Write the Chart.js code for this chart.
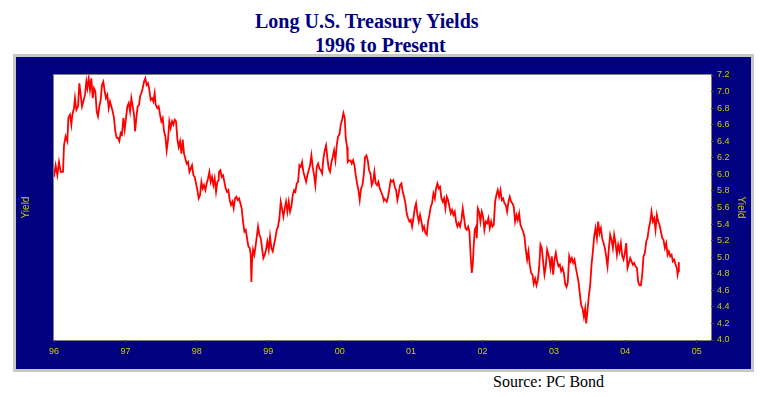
<!DOCTYPE html>
<html>
<head>
<meta charset="utf-8">
<script src="https://cdn.jsdelivr.net/npm/chart.js@4"></script>
<style>
  body{margin:0;background:#fff;width:760px;height:397px;position:relative;overflow:hidden}
  .t{position:absolute;font-family:"Liberation Serif","Times New Roman",serif;font-weight:bold;color:#000080;font-size:20px;white-space:nowrap;line-height:20px}
  #panel{position:absolute;left:13px;top:54px;width:741px;height:318px;box-sizing:border-box;border:3px solid #c8c8c8;background:#000080}
  #wrap{position:absolute;left:0;top:0;width:735px;height:312px}
  #src{position:absolute;left:493px;top:373px;font-family:"Liberation Serif","Times New Roman",serif;font-size:16px;color:#000;white-space:nowrap}
</style>
</head>
<body>
<div class="t" id="t1" style="left:255px;top:11px">Long U.S. Treasury Yields</div>
<div class="t" id="t2" style="left:315px;top:35px">1996 to Present</div>
<div id="panel"><div id="wrap"><canvas id="myChart" width="735" height="312"></canvas></div></div>
<div id="src">Source: PC Bond</div>
<script>
// tick labels
let xLabels=['96','97','98','99','00','01','02','03','04','05'];

// yields, by stretch of years
let years96=[1996.000,1996.023,1996.047,1996.070,1996.093,1996.126,1996.140,1996.163,1996.187,1996.201,1996.224,1996.243,1996.257,1996.280,1996.294,1996.313,1996.336,1996.355,1996.374,1996.392,1996.411,1996.434,1996.453,1996.467,1996.486,1996.504,1996.523,1996.542,1996.560,1996.579,1996.598,1996.616,1996.635,1996.654,1996.672,1996.691,1996.710,1996.728,1996.747,1996.766,1996.784,1996.803,1996.822,1996.840,1996.859,1996.878,1996.896,1996.915,1996.934,1996.952,1996.971,1996.990,1997.008,1997.027,1997.046,1997.065,1997.083,1997.102,1997.121,1997.135,1997.153,1997.172,1997.191,1997.205,1997.223,1997.242,1997.261,1997.279,1997.298,1997.317,1997.335,1997.354,1997.373,1997.391,1997.410,1997.424,1997.447,1997.466,1997.485,1997.503,1997.522,1997.541,1997.559,1997.578,1997.597,1997.615,1997.634,1997.653,1997.672,1997.690,1997.709,1997.728,1997.746,1997.765,1997.784,1997.802,1997.821,1997.840,1997.858,1997.877,1997.896,1997.914,1997.933,1997.952,1997.970,1997.989,1998.008,1998.026,1998.045,1998.064,1998.082,1998.101,1998.120,1998.138,1998.157,1998.176,1998.194,1998.213,1998.232,1998.250,1998.269,1998.288,1998.306];
let yields96=[5.97,6.11,5.99,6.15,6.03,6.03,6.35,6.46,6.40,6.68,6.72,6.60,6.72,6.80,6.92,6.78,6.82,7.10,6.96,6.82,6.88,6.96,7.12,7.04,7.16,7.02,7.16,6.92,7.04,7.00,6.76,6.70,6.82,6.90,7.08,7.12,7.00,6.92,6.96,6.80,6.88,6.82,6.76,6.68,6.52,6.44,6.44,6.40,6.50,6.48,6.68,6.54,6.68,6.82,6.86,6.76,6.92,6.82,6.72,6.52,6.68,6.82,6.84,6.94,6.98,7.04,7.12,7.16,7.08,7.10,7.02,6.90,6.92,6.88,6.98,6.84,6.80,6.82,6.72,6.64,6.68,6.52,6.46,6.29,6.42,6.64,6.56,6.64,6.60,6.66,6.64,6.42,6.33,6.40,6.25,6.42,6.25,6.19,6.13,6.15,6.03,6.07,6.11,5.99,5.97,5.89,5.81,5.71,5.75,5.91,5.83,5.87,5.81,5.89,5.95,6.03,5.91,5.97,5.87,5.95,5.79,5.91,5.93];

let years98=[1998.311,1998.330,1998.348,1998.367,1998.386,1998.404,1998.423,1998.442,1998.460,1998.479,1998.498,1998.516,1998.535,1998.554,1998.572,1998.591,1998.610,1998.628,1998.647,1998.666,1998.685,1998.703,1998.722,1998.741,1998.755,1998.764,1998.773,1998.787,1998.806,1998.825,1998.843,1998.857,1998.876,1998.895,1998.913,1998.932,1998.951,1998.969,1998.988,1999.007,1999.025,1999.044,1999.063,1999.081,1999.100,1999.119,1999.137,1999.156,1999.175,1999.193,1999.212,1999.231,1999.249,1999.268,1999.287,1999.306,1999.324,1999.343,1999.362,1999.380,1999.399,1999.418,1999.436,1999.455,1999.474,1999.492,1999.511,1999.530,1999.548,1999.567,1999.586,1999.604,1999.623,1999.642,1999.660,1999.679,1999.698,1999.716,1999.735,1999.754,1999.772,1999.791,1999.810,1999.829,1999.847,1999.866,1999.885,1999.903,1999.922,1999.941,1999.959,1999.978,1999.997,2000.015,2000.034,2000.053,2000.071,2000.085,2000.104,2000.113,2000.132,2000.151,2000.169,2000.188,2000.207,2000.225,2000.244,2000.263,2000.281,2000.300,2000.319,2000.337,2000.356,2000.375,2000.393,2000.412,2000.431,2000.449,2000.468,2000.487,2000.505,2000.524,2000.543,2000.561,2000.580,2000.599,2000.617];
let yields98=[6.03,6.05,5.97,5.99,5.91,5.83,5.79,5.81,5.69,5.63,5.67,5.59,5.71,5.73,5.69,5.71,5.65,5.59,5.43,5.31,5.33,5.23,5.13,5.11,5.03,4.70,4.95,5.09,5.03,5.15,5.27,5.37,5.27,5.23,5.11,4.99,5.03,5.09,5.19,5.09,5.25,5.11,5.07,5.15,5.23,5.33,5.37,5.47,5.67,5.59,5.49,5.59,5.67,5.55,5.67,5.55,5.61,5.75,5.81,5.79,5.89,5.91,6.11,6.09,6.15,6.03,5.97,5.91,5.99,6.05,6.11,6.23,6.09,5.99,5.87,6.09,6.13,6.07,6.05,6.01,6.19,6.29,6.35,6.19,6.07,6.03,6.15,6.21,6.29,6.17,6.35,6.46,6.48,6.60,6.66,6.74,6.68,6.44,6.33,6.15,6.17,6.17,6.13,6.17,6.11,5.99,5.89,5.81,5.69,5.83,5.87,5.99,6.21,6.23,6.17,6.05,6.01,5.87,5.91,6.03,5.89,5.87,5.91,5.83,5.79,5.75,5.69];

let years00=[2000.622,2000.641,2000.659,2000.678,2000.697,2000.715,2000.734,2000.753,2000.771,2000.790,2000.809,2000.827,2000.846,2000.865,2000.883,2000.902,2000.921,2000.939,2000.958,2000.977,2000.996,2001.014,2001.033,2001.052,2001.070,2001.089,2001.108,2001.126,2001.145,2001.164,2001.182,2001.201,2001.220,2001.238,2001.257,2001.276,2001.294,2001.313,2001.332,2001.350,2001.369,2001.388,2001.406,2001.425,2001.444,2001.462,2001.481,2001.500,2001.518,2001.537,2001.556,2001.574,2001.593,2001.612,2001.630,2001.649,2001.668,2001.686,2001.705,2001.724,2001.743,2001.761,2001.780,2001.799,2001.817,2001.836,2001.850,2001.864,2001.878,2001.892,2001.911,2001.920,2001.934,2001.953,2001.971,2001.990,2002.009,2002.027,2002.046,2002.065,2002.083,2002.102,2002.121,2002.139,2002.158,2002.177,2002.195,2002.214,2002.233,2002.252,2002.270,2002.289,2002.308,2002.326,2002.345,2002.364,2002.382,2002.401,2002.420,2002.438,2002.457,2002.476,2002.494,2002.513,2002.532,2002.550,2002.569,2002.588,2002.606,2002.625,2002.644,2002.662,2002.681,2002.700,2002.718,2002.737,2002.756,2002.774,2002.793,2002.812,2002.830,2002.849,2002.868,2002.886,2002.905,2002.924];
let yields00=[5.71,5.69,5.67,5.73,5.83,5.93,5.91,5.93,5.85,5.81,5.69,5.77,5.87,5.89,5.79,5.73,5.65,5.53,5.47,5.43,5.45,5.37,5.47,5.59,5.65,5.51,5.43,5.51,5.43,5.33,5.37,5.29,5.27,5.43,5.51,5.61,5.65,5.77,5.71,5.83,5.89,5.83,5.85,5.71,5.67,5.71,5.59,5.73,5.69,5.61,5.53,5.57,5.51,5.55,5.43,5.37,5.41,5.37,5.45,5.59,5.47,5.35,5.33,5.37,5.31,4.99,4.81,4.91,5.15,5.33,5.37,5.23,5.59,5.55,5.43,5.55,5.49,5.33,5.43,5.41,5.47,5.35,5.43,5.37,5.39,5.67,5.75,5.81,5.73,5.81,5.69,5.71,5.65,5.63,5.55,5.67,5.73,5.67,5.65,5.61,5.43,5.51,5.45,5.53,5.39,5.35,5.31,5.25,5.09,4.97,5.07,4.91,4.81,4.79,4.68,4.74,4.66,4.72,4.87,5.15,5.11,4.95,4.79,4.89,5.09,5.03];

let years03=[2002.934,2002.952,2002.971,2002.990,2003.008,2003.027,2003.046,2003.064,2003.083,2003.102,2003.121,2003.139,2003.158,2003.177,2003.195,2003.214,2003.233,2003.251,2003.270,2003.289,2003.307,2003.326,2003.345,2003.363,2003.382,2003.401,2003.420,2003.438,2003.452,2003.471,2003.490,2003.508,2003.527,2003.546,2003.564,2003.583,2003.602,2003.620,2003.639,2003.658,2003.676,2003.695,2003.714,2003.732,2003.751,2003.770,2003.788,2003.807,2003.826,2003.844,2003.863,2003.882,2003.900,2003.919,2003.938,2003.957,2003.975,2003.994,2004.013,2004.031,2004.050,2004.069,2004.087,2004.106,2004.125,2004.143,2004.162,2004.181,2004.199,2004.218,2004.237,2004.255,2004.274,2004.293,2004.311,2004.330,2004.349,2004.367,2004.386,2004.405,2004.423,2004.442,2004.461,2004.479,2004.498,2004.517,2004.535,2004.554,2004.573,2004.592,2004.610,2004.629,2004.648,2004.666,2004.685,2004.704,2004.722,2004.732,2004.741,2004.750,2004.760];
let yields03=[4.99,4.87,5.01,4.79,4.97,5.05,4.95,4.89,4.91,4.83,4.87,4.81,4.68,4.64,4.70,5.01,4.95,4.99,4.93,4.97,4.87,4.79,4.70,4.56,4.42,4.38,4.28,4.38,4.20,4.36,4.54,4.66,4.91,5.07,5.25,5.35,5.23,5.43,5.29,5.35,5.23,5.17,5.11,5.01,4.89,5.11,5.27,5.21,5.11,5.27,5.17,5.03,5.15,5.07,5.17,5.01,4.97,5.05,5.17,4.87,4.93,4.99,4.95,4.91,4.93,4.89,4.87,4.70,4.66,4.66,4.79,5.01,5.05,5.19,5.23,5.35,5.43,5.55,5.43,5.47,5.33,5.51,5.43,5.39,5.31,5.23,5.21,5.11,5.17,5.03,5.07,5.01,5.03,4.95,4.97,4.91,4.87,4.79,4.83,4.93,4.93];

let years=[...years96,...years98,...years00,...years03];
let yields=[...yields96,...yields98,...yields00,...yields03];

const yellow='#cccc00';
const tickFont={family:'Arial, "Liberation Sans", sans-serif',size:9};

const plotBack={
  id:'plotBack',
  beforeDraw(chart){
    const a=chart.chartArea, c=chart.ctx;
    c.save();
    c.fillStyle='#ffffff';
    c.fillRect(a.left,a.top,a.right-a.left,a.bottom-a.top);
    c.strokeStyle='#808080';
    c.lineWidth=1;
    c.strokeRect(a.left-0.5,a.top-0.5,a.right-a.left+1,a.bottom-a.top+1);
    c.restore();
  }
};

const ctx=document.getElementById('myChart').getContext('2d');
let chart=new Chart(ctx,{
  type:'line',
  data:{
    datasets:[{
      label:'Yield',
      data:years.map((x,i)=>({x:x,y:yields[i]})),
      borderColor:'#ff0000',
      borderWidth:1.8,
      pointRadius:0,
      tension:0,
      yAxisID:'y'
    }]
  },
  options:{
    responsive:false,
    animation:false,
    events:[],
    layout:{padding:{top:18,left:0,right:0,bottom:0}},
    plugins:{legend:{display:false},tooltip:{enabled:false}},
    scales:{
      x:{
        type:'linear',min:1996,max:2005.2,
        grid:{display:true,drawOnChartArea:false,tickLength:3,color:'#303070'},
        border:{display:false},
        ticks:{stepSize:1,includeBounds:false,autoSkip:false,maxRotation:0,color:yellow,font:tickFont,padding:3,
          callback:(v)=>xLabels[Math.round(v-1996)]},
        afterFit:(s)=>{s.height=29;}
      },
      y:{
        position:'right',min:4.0,max:7.2,
        grid:{display:true,drawOnChartArea:false,tickLength:3,color:'#303070'},
        border:{display:false},
        ticks:{stepSize:0.2,color:yellow,font:tickFont,padding:3,callback:(v)=>v.toFixed(1)},
        title:{display:true,text:'Yield',color:yellow,font:{family:'Arial, "Liberation Sans", sans-serif',size:10}},
        afterFit:(s)=>{s.width=40;}
      },
      yl:{
        position:'left',min:4.0,max:7.2,
        grid:{display:false},border:{display:false},
        ticks:{display:false},
        title:{display:true,text:'Yield',color:yellow,font:{family:'Arial, "Liberation Sans", sans-serif',size:10}},
        afterFit:(s)=>{s.width=38;}
      }
    }
  },
  plugins:[plotBack]
});
</script>
</body>
</html>
